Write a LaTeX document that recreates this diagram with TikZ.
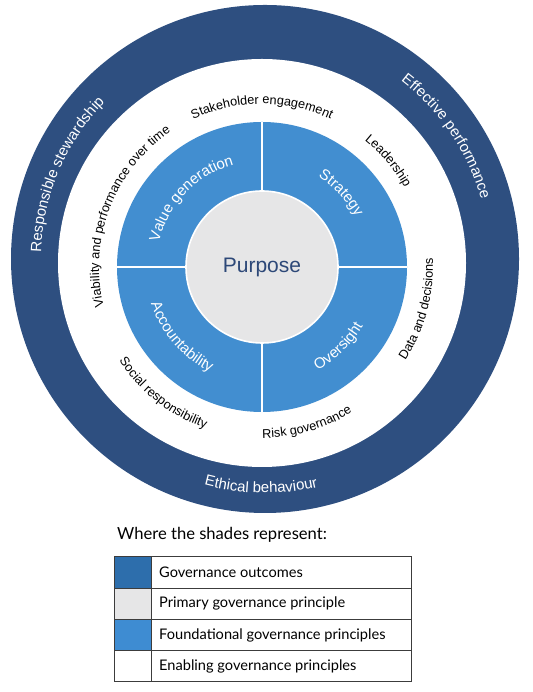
\documentclass[tikz,border=0pt]{standalone}
\usepackage{fontspec}
\setmainfont{Liberation Sans}
\newfontfamily\legendfont{Lato}
\usepackage{tikz}
\usetikzlibrary{decorations.text}

\definecolor{ringnavy}{RGB}{46,79,128}
\definecolor{sectorblue}{RGB}{66,142,208}
\definecolor{purposegrey}{RGB}{230,230,231}
\definecolor{purposetext}{RGB}{45,72,120}
\definecolor{outcomeblue}{RGB}{45,110,172}
\definecolor{foundblue}{RGB}{62,140,210}
\definecolor{legendline}{RGB}{60,60,60}

\begin{document}
\begin{tikzpicture}
[
    x = 1pt, y = 1pt,
    enabling/.style = {decorate, decoration = {text along path, text align = center,
        text = {|\fontsize{12.7}{15}\selectfont|#1}}},
    foundation/.style = {decorate, decoration = {text along path, text align = center,
        text color = white, text = {|\fontsize{15}{18}\selectfont|#1}}},
    outcome/.style = {decorate, decoration = {text along path, text align = center,
        text color = white, text = {|\fontsize{15}{18}\selectfont|#1}}},
    divider/.style = {white, line width = 1.6pt},
    legendrow/.style = {draw = legendline, line width = 1pt},
    legendtext/.style = {anchor = west, inner sep = 0pt, font = \legendfont\fontsize{14.6}{17}\selectfont},
]
    \useasboundingbox (0,0) rectangle (532,692);

    \coordinate (O) at (265,433);
    \coordinate (W) at (262,429);
    \coordinate (C) at (262,425);

    % rings
    \fill[ringnavy] (O) circle[radius = 254];
    \fill[white] (W) circle[radius = 204];
    \fill[sectorblue] (C) circle[radius = 145];
    \draw[white, line width = 1.6pt, fill = purposegrey] (C) circle[radius = 76];
    \draw[divider, shift = {(C)}] (0:76) -- (0:145);
    \draw[divider, shift = {(C)}] (90:76) -- (90:145);
    \draw[divider, shift = {(C)}] (180:76) -- (180:145);
    \draw[divider, shift = {(C)}] (270:76) -- (270:145);

    \node[text = purposetext, font = \fontsize{21}{25}\selectfont] (purpose) at (C) {Purpose};

    % outcomes
    \path[outcome = {Responsible stewardship}, shift = {(O)}] (197:224) arc[start angle = 197, end angle = 117, radius = 224];
    \path[outcome = {Effective performance}, shift = {(O)}] (74:224) arc[start angle = 74, end angle = -6, radius = 224];
    \path[outcome = {Ethical behaviour}, shift = {(O)}] (229:234) arc[start angle = 229, end angle = 309, radius = 234];

    % foundational principles
    \path[foundation = {Value generation}, shift = {(C)}] (186:106) arc[start angle = 186, end angle = 86, radius = 106];
    \path[foundation = {Strategy}, shift = {(C)}] (93:106) arc[start angle = 93, end angle = -7, radius = 106];
    \path[foundation = {Accountability}, shift = {(C)}] (171:117) arc[start angle = 171, end angle = 271, radius = 117];
    \path[foundation = {Oversight}, shift = {(C)}] (264:117) arc[start angle = 264, end angle = 364, radius = 117];

    % enabling principles
    \path[enabling = {Stakeholder engagement}, shift = {(C)}] (140:163) arc[start angle = 140, end angle = 40, radius = 163];
    \path[enabling = {Leadership}, shift = {(C)}] (90:163) arc[start angle = 90, end angle = -10, radius = 163];
    \path[enabling = {Viability and performance over time}, shift = {(C)}] (214:163) arc[start angle = 214, end angle = 104, radius = 163];
    \path[enabling = {Data and decisions}, shift = {(C)}] (-65:171) arc[start angle = -65, end angle = 35, radius = 171];
    \path[enabling = {Risk governance}, shift = {(C)}] (-124:171) arc[start angle = -124, end angle = -24, radius = 171];
    \path[enabling = {Social responsibility}, shift = {(C)}] (-178:171) arc[start angle = -178, end angle = -78, radius = 171];

    % legend
    \node[legendtext, font = \legendfont\fontsize{16.6}{20}\selectfont] (shades) at (117,157) {Where the shades represent:};

    \fill[outcomeblue] (114,135) rectangle (151,103.75);
    \fill[purposegrey] (114,103.75) rectangle (151,72.5);
    \fill[foundblue] (114,72.5) rectangle (151,41.25);
    \draw[legendrow] (114,135) rectangle (411,103.75);
    \draw[legendrow] (114,103.75) rectangle (411,72.5);
    \draw[legendrow] (114,72.5) rectangle (411,41.25);
    \draw[legendrow] (114,41.25) rectangle (411,10);
    \draw[legendrow] (151,135) -- (151,10);

    \node[legendtext] (outcomes) at (159,119.4) {Governance outcomes};
    \node[legendtext] (primary) at (159,88.1) {Primary governance principle};
    \node[legendtext] (foundational) at (159,56.9) {Foundational governance principles};
    \node[legendtext] (enablingrow) at (159,25.6) {Enabling governance principles};
\end{tikzpicture}
\end{document}
